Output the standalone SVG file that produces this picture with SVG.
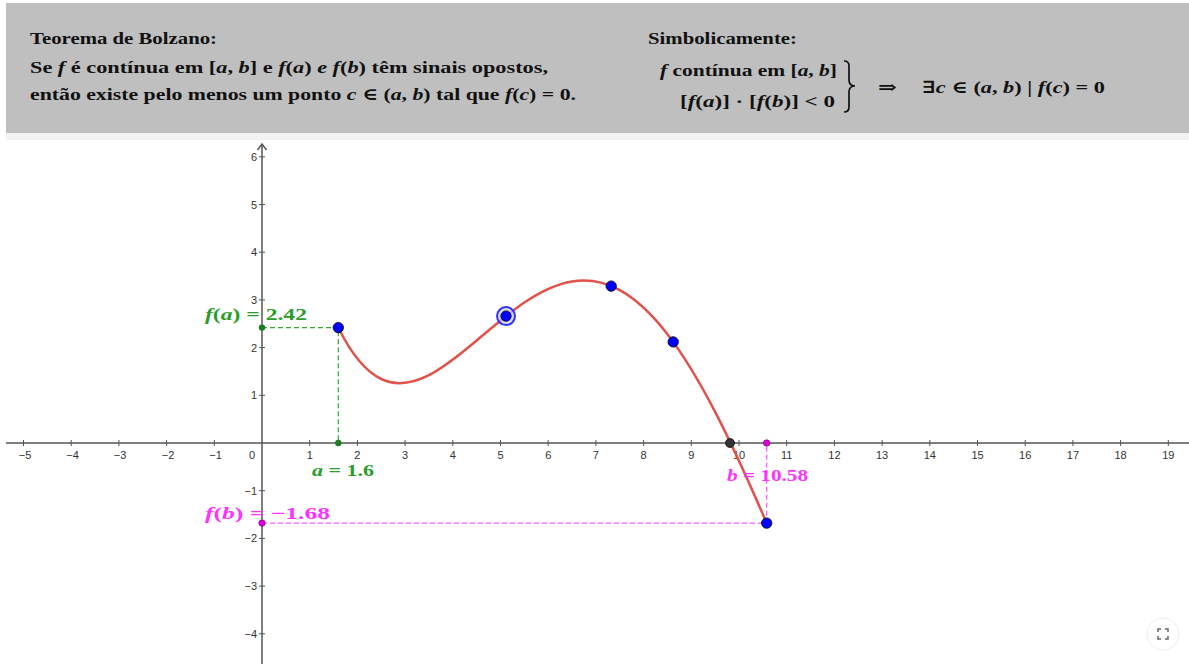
<svg xmlns="http://www.w3.org/2000/svg" width="1189" height="664" viewBox="0 0 1189 664">
<style>
.hd{font-family:"Liberation Serif","DejaVu Serif",serif;font-weight:bold;font-size:17px;fill:#111}
.i{font-style:italic}
.tk{font-family:"Liberation Sans",Arial,sans-serif;font-size:11px;fill:#333}
.tx{text-anchor:middle}
.ty{text-anchor:end}
.ax{stroke:#555;stroke-width:1.5;fill:none}
.tick{stroke:#555;stroke-width:1}
.gl{font-family:"Liberation Serif","DejaVu Serif",serif;font-weight:bold;font-size:17px;fill:#2a9d2a}
.ml{font-family:"Liberation Serif","DejaVu Serif",serif;font-weight:bold;font-size:17px;fill:#ff33ff}
.bp{fill:#0000ff;stroke:#000;stroke-width:0.8}
</style>
<rect width="1189" height="664" fill="#fff"/>
<g id="header">
<rect x="6" y="3" width="1183" height="130" fill="#bfbfbf"/>
<rect x="6" y="133" width="1183" height="7" fill="#f2f2f2"/>
<text class="hd" x="30" y="44" textLength="187" lengthAdjust="spacingAndGlyphs">Teorema de Bolzano:</text>
<text class="hd" x="30" y="73" textLength="518" lengthAdjust="spacingAndGlyphs">Se <tspan class="i">f</tspan> é contínua em [<tspan class="i">a</tspan>, <tspan class="i">b</tspan>] e <tspan class="i">f</tspan>(<tspan class="i">a</tspan>) <tspan class="i">e f</tspan>(<tspan class="i">b</tspan>) têm sinais opostos,</text>
<text class="hd" x="30" y="100" textLength="546" lengthAdjust="spacingAndGlyphs">então existe pelo menos um ponto <tspan class="i">c</tspan> ∈ (<tspan class="i">a</tspan>, <tspan class="i">b</tspan>) tal que <tspan class="i">f</tspan>(<tspan class="i">c</tspan>) = 0.</text>
<text class="hd" x="648" y="44" textLength="149" lengthAdjust="spacingAndGlyphs">Simbolicamente:</text>
<text class="hd" x="660" y="76" textLength="177" lengthAdjust="spacingAndGlyphs"><tspan class="i">f</tspan> contínua em [<tspan class="i">a</tspan>, <tspan class="i">b</tspan>]</text>
<text class="hd" x="680" y="107" textLength="155" lengthAdjust="spacingAndGlyphs">[<tspan class="i">f</tspan>(<tspan class="i">a</tspan>)] · [<tspan class="i">f</tspan>(<tspan class="i">b</tspan>)] &lt; 0</text>
<path d="M844,61 Q849,61 849,66 L849,80 Q849,86 855,86 Q849,86 849,92 L849,107 Q849,112 844,112" fill="none" stroke="#111" stroke-width="1.7"/>
<text class="hd" x="878" y="93" textLength="19" lengthAdjust="spacingAndGlyphs">⇒</text>
<text class="hd" x="922" y="93" textLength="183" lengthAdjust="spacingAndGlyphs">∃<tspan class="i">c</tspan> ∈ (<tspan class="i">a</tspan>, <tspan class="i">b</tspan>) | <tspan class="i">f</tspan>(<tspan class="i">c</tspan>) = 0</text>
</g>
<g id="axes">
<line class="ax" x1="6" y1="443" x2="1189" y2="443"/>
<line class="ax" x1="262" y1="664" x2="262" y2="144"/>
<path class="ax" d="M257.5,150 L262,144 L266.5,150"/>
<g class="tick">
<line x1="23.5" y1="440" x2="23.5" y2="446"/><line x1="71.2" y1="440" x2="71.2" y2="446"/><line x1="118.9" y1="440" x2="118.9" y2="446"/><line x1="166.6" y1="440" x2="166.6" y2="446"/><line x1="214.3" y1="440" x2="214.3" y2="446"/>
<line x1="309.7" y1="440" x2="309.7" y2="446"/><line x1="357.4" y1="440" x2="357.4" y2="446"/><line x1="405.1" y1="440" x2="405.1" y2="446"/><line x1="452.8" y1="440" x2="452.8" y2="446"/><line x1="500.5" y1="440" x2="500.5" y2="446"/><line x1="548.2" y1="440" x2="548.2" y2="446"/><line x1="595.9" y1="440" x2="595.9" y2="446"/><line x1="643.6" y1="440" x2="643.6" y2="446"/><line x1="691.3" y1="440" x2="691.3" y2="446"/><line x1="739" y1="440" x2="739" y2="446"/><line x1="786.7" y1="440" x2="786.7" y2="446"/><line x1="834.4" y1="440" x2="834.4" y2="446"/><line x1="882.1" y1="440" x2="882.1" y2="446"/><line x1="929.8" y1="440" x2="929.8" y2="446"/><line x1="977.5" y1="440" x2="977.5" y2="446"/><line x1="1025.2" y1="440" x2="1025.2" y2="446"/><line x1="1072.9" y1="440" x2="1072.9" y2="446"/><line x1="1120.6" y1="440" x2="1120.6" y2="446"/><line x1="1168.3" y1="440" x2="1168.3" y2="446"/>
<line x1="259" y1="156.8" x2="265" y2="156.8"/><line x1="259" y1="204.5" x2="265" y2="204.5"/><line x1="259" y1="252.2" x2="265" y2="252.2"/><line x1="259" y1="299.9" x2="265" y2="299.9"/><line x1="259" y1="347.6" x2="265" y2="347.6"/><line x1="259" y1="395.3" x2="265" y2="395.3"/>
<line x1="259" y1="490.7" x2="265" y2="490.7"/><line x1="259" y1="538.4" x2="265" y2="538.4"/><line x1="259" y1="586.1" x2="265" y2="586.1"/><line x1="259" y1="633.8" x2="265" y2="633.8"/>
</g>
<g class="tk tx">
<text x="25" y="459">−5</text><text x="72.5" y="459">−4</text><text x="120" y="459">−3</text><text x="168" y="459">−2</text><text x="215.5" y="459">−1</text><text x="252" y="459">0</text>
<text x="309.7" y="459">1</text><text x="357.4" y="459">2</text><text x="405.1" y="459">3</text><text x="452.8" y="459">4</text><text x="500.5" y="459">5</text><text x="548.2" y="459">6</text><text x="595.9" y="459">7</text><text x="643.6" y="459">8</text><text x="691.3" y="459">9</text><text x="739" y="459">10</text><text x="786.7" y="459">11</text><text x="834.4" y="459">12</text><text x="882.1" y="459">13</text><text x="929.8" y="459">14</text><text x="977.5" y="459">15</text><text x="1025.2" y="459">16</text><text x="1072.9" y="459">17</text><text x="1120.6" y="459">18</text><text x="1168.3" y="459">19</text>
</g>
<g class="tk ty">
<text x="257" y="160.8">6</text><text x="257" y="208.5">5</text><text x="257" y="256.2">4</text><text x="257" y="303.9">3</text><text x="257" y="351.6">2</text><text x="257" y="399.3">1</text>
<text x="257" y="494.7">−1</text><text x="257" y="542.4">−2</text><text x="257" y="590.1">−3</text><text x="257" y="637.8">−4</text>
</g>
</g>
<g id="connectors">
<path d="M262,327.6 H338.3 V443" fill="none" stroke="#33aa33" stroke-width="1.2" stroke-dasharray="5,3"/>
<path d="M262,523.1 H766.7 V443" fill="none" stroke="#ff55ff" stroke-width="1.2" stroke-dasharray="5,3"/>
</g>
<g id="curve">
<path d="M338.32,327.57 C352.63,356.79 366.94,372.24 381.25,379.00 C397.15,386.51 413.05,383.29 428.95,375.15 C444.85,367.01 460.75,353.93 476.65,340.51 C492.55,327.09 508.45,313.32 524.35,302.57 C540.25,291.82 556.15,284.07 572.05,281.49 C587.95,278.91 603.85,281.51 619.75,290.19 C635.65,298.87 651.55,313.64 667.45,334.23 C683.35,354.82 699.25,381.22 715.15,411.94 C732.32,445.11 749.50,483.34 766.67,523.14" fill="none" stroke="#e0524a" stroke-width="2.5" stroke-linecap="round"/>
</g>
<g id="point-fa"><circle cx="262" cy="327.6" r="3.2" fill="#1e7d1e"/></g>
<g id="point-a"><circle cx="338.3" cy="443" r="3.2" fill="#1e7d1e"/></g>
<g id="point-fb"><circle cx="262" cy="523.1" r="3.2" fill="#dd00dd" stroke="#880088" stroke-width="0.8"/></g>
<g id="point-b"><circle cx="766.7" cy="443" r="3.2" fill="#dd00dd" stroke="#880088" stroke-width="0.8"/></g>
<g id="point-zero"><circle cx="730" cy="443" r="4.5" fill="#333" stroke="#111" stroke-width="0.8"/></g>
<g id="point-A"><circle class="bp" cx="338.3" cy="327.6" r="5.2"/></g>
<g id="point-B">
<circle cx="506" cy="316.1" r="9" fill="#c8c8f0" fill-opacity="0.7" stroke="#3333ff" stroke-width="2"/>
<circle class="bp" cx="506" cy="316.1" r="5.2"/>
</g>
<g id="point-C"><circle class="bp" cx="611.2" cy="286.1" r="5.2"/></g>
<g id="point-D"><circle class="bp" cx="673.2" cy="341.9" r="5.2"/></g>
<g id="point-E"><circle class="bp" cx="766.7" cy="523.1" r="5.2"/></g>
<g id="labels">
<text class="gl" x="205" y="320" textLength="102" lengthAdjust="spacingAndGlyphs"><tspan class="i">f</tspan>(<tspan class="i">a</tspan>) = 2.42</text>
<text class="gl" x="312" y="476" textLength="62" lengthAdjust="spacingAndGlyphs"><tspan class="i">a</tspan> = 1.6</text>
<text class="ml" x="205" y="519" textLength="125" lengthAdjust="spacingAndGlyphs"><tspan class="i">f</tspan>(<tspan class="i">b</tspan>) = −1.68</text>
<text class="ml" x="727" y="481" textLength="81" lengthAdjust="spacingAndGlyphs"><tspan class="i">b</tspan> = 10.58</text>
</g>
<g id="fullscreen">
<circle cx="1163" cy="634" r="16" fill="#fff" stroke="#eee" stroke-width="1"/>
<path d="M1158,632 V629 H1161 M1165,629 H1168 V632 M1168,636 V639 H1165 M1161,639 H1158 V636" fill="none" stroke="#666" stroke-width="1.5"/>
</g>
</svg>
